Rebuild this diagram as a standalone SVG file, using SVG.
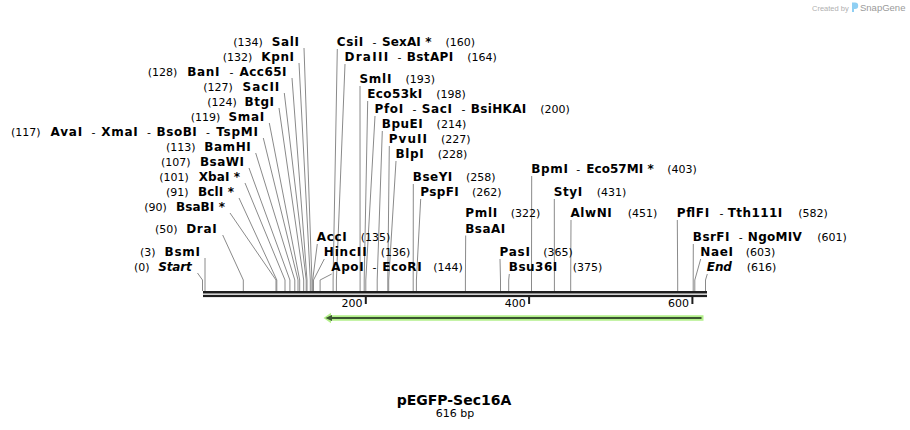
<svg xmlns="http://www.w3.org/2000/svg" width="910" height="430" viewBox="0 0 910 430">
<style>
text{font-family:"DejaVu Sans",Verdana,sans-serif;fill:#000}
.n{font-size:11px}
.b{font-size:12px;font-weight:bold}
.i{font-style:italic}
.e{text-anchor:end}
.c{fill:none;stroke:#8a8a8a;stroke-width:1}
.t{font-size:11px}
</style>
<rect width="910" height="430" fill="#fff"/>
<g id="watermark">
<text x="812" y="10.5" style="font-family:'Liberation Sans',Arial,sans-serif;font-size:7.5px;fill:#b0b0b0">Created by</text>
<path d="M852,2.5 h3 a3.2,3.2 0 0 1 0,6.4 h-1 v3 h-2 z" fill="#8fcff3"/>
<text x="860" y="11" style="font-family:'Liberation Sans',Arial,sans-serif;font-size:9.5px;fill:#9a9a9a">SnapGene</text>
</g>
<g id="connectors">
<polyline class="c" points="304,48 311.9,280 311.9,291"/>
<polyline class="c" points="299,63 310.3,280 310.3,291"/>
<polyline class="c" points="292,78 307,280 307,291"/>
<polyline class="c" points="284.3,93 306.2,280 306.2,291"/>
<polyline class="c" points="279,108 303.7,280 303.7,291"/>
<polyline class="c" points="269.3,123 299.7,280 299.7,291"/>
<polyline class="c" points="263.3,138 298,280 298,291"/>
<polyline class="c" points="255.7,153 294.8,280 294.8,291"/>
<polyline class="c" points="249,168 289.9,280 289.9,291"/>
<polyline class="c" points="245,183 285,280 285,291"/>
<polyline class="c" points="239,198 276.8,280 276.8,291"/>
<polyline class="c" points="230,213 276,280 276,291"/>
<polyline class="c" points="222.7,235 243.3,280 243.3,291"/>
<polyline class="c" points="205,258 205,280 205,291"/>
<polyline class="c" points="197.5,273 202.5,280 202.5,291"/>
<polyline class="c" points="337.3,49 333.1,280 333.1,291"/>
<polyline class="c" points="345,64 336.4,280 336.4,291"/>
<polyline class="c" points="360,86 360.1,280 360.1,291"/>
<polyline class="c" points="367.7,101 364.2,280 364.2,291"/>
<polyline class="c" points="375,116 365.8,280 365.8,291"/>
<polyline class="c" points="382.3,131 377.2,280 377.2,291"/>
<polyline class="c" points="389.3,146 387.8,280 387.8,291"/>
<polyline class="c" points="396,161 388.7,280 388.7,291"/>
<polyline class="c" points="413.3,184 413.2,280 413.2,291"/>
<polyline class="c" points="420.7,199 416.4,280 416.4,291"/>
<polyline class="c" points="465.7,235.5 465.4,280 465.4,291"/>
<polyline class="c" points="317.3,244 312.7,280 312.7,291"/>
<polyline class="c" points="324.3,259 313.5,280 313.5,291"/>
<polyline class="c" points="331.7,274 320.1,280 320.1,291"/>
<polyline class="c" points="500,259 500.5,280 500.5,291"/>
<polyline class="c" points="509.3,274 508.7,280 508.7,291"/>
<polyline class="c" points="531.7,176 531.5,280 531.5,291"/>
<polyline class="c" points="554.3,199 554.4,280 554.4,291"/>
<polyline class="c" points="571,220 570.7,280 570.7,291"/>
<polyline class="c" points="677.3,220 677.7,280 677.7,291"/>
<polyline class="c" points="693.3,244 693.2,280 693.2,291"/>
<polyline class="c" points="700.7,259 694.8,280 694.8,291"/>
<polyline class="c" points="707.3,274 705.5,280 705.5,291"/>
</g>
<g id="ruler">
<rect x="203" y="291" width="504" height="2.5" fill="#1e1e1e"/>
<rect x="203" y="294.8" width="504" height="2.3" fill="#1e1e1e"/>
<rect x="364.8" y="297" width="2" height="7" fill="#1e1e1e"/>
<rect x="528.1" y="297" width="2" height="7" fill="#1e1e1e"/>
<rect x="691.4" y="297" width="2" height="7" fill="#1e1e1e"/>
<text class="t e" x="362.5" y="307">200</text>
<text class="t e" x="525.8" y="307">400</text>
<text class="t e" x="689.1" y="307">600</text>
</g>
<g id="feature-arrow">
<polygon points="323.5,318 331,312.8 331,315.3 703.5,315.3 703.5,320.7 331,320.7 331,323.2" fill="#b3f08a"/>
<line x1="330" y1="318" x2="701.5" y2="318" stroke="#3a5430" stroke-width="2"/>
<polygon points="325.5,318 332,315 332,321" fill="#3a5430"/>
</g>
<g id="n-SalI"><text class="n" x="233.3" y="46">(134)</text><text class="b" x="271.8" y="46" textLength="27.2">SalI</text></g>
<g id="n-KpnI"><text class="n" x="222.7" y="61">(132)</text><text class="b" x="261.3" y="61" textLength="32.7">KpnI</text></g>
<g id="n-BanI"><text class="n" x="147.7" y="76">(128)</text><text class="b" x="187.2" y="76" textLength="32.2">BanI</text><text class="n" x="229.5" y="76">-</text><text class="b" x="239.5" y="76" textLength="47">Acc65I</text></g>
<g id="n-SacII"><text class="n" x="203.3" y="91">(127)</text><text class="b" x="242.6" y="91" textLength="36.7">SacII</text></g>
<g id="n-BtgI"><text class="n" x="207.3" y="106">(124)</text><text class="b" x="244.5" y="106" textLength="29.5">BtgI</text></g>
<g id="n-SmaI"><text class="n" x="190.7" y="121">(119)</text><text class="b" x="228.5" y="121" textLength="35.8">SmaI</text></g>
<g id="n-AvaI"><text class="n" x="11" y="136">(117)</text><text class="b" x="50.5" y="136" textLength="31.7">AvaI</text><text class="n" x="91.5" y="136">-</text><text class="b" x="101.2" y="136" textLength="36.5">XmaI</text><text class="n" x="147" y="136">-</text><text class="b" x="156.6" y="136" textLength="40.2">BsoBI</text><text class="n" x="206" y="136">-</text><text class="b" x="216.3" y="136" textLength="41.6">TspMI</text></g>
<g id="n-BamHI"><text class="n" x="166" y="151">(113)</text><text class="b" x="204.3" y="151" textLength="46.4">BamHI</text></g>
<g id="n-BsaWI"><text class="n" x="161" y="166">(107)</text><text class="b" x="199.9" y="166" textLength="44.1">BsaWI</text></g>
<g id="n-XbaI"><text class="n" x="159.3" y="181">(101)</text><text class="b" x="198.7" y="181" textLength="41.3">XbaI *</text></g>
<g id="n-BclI"><text class="n" x="166" y="196">(91)</text><text class="b" x="198.1" y="196" textLength="35.9">BclI *</text></g>
<g id="n-BsaBI"><text class="n" x="144.3" y="211">(90)</text><text class="b" x="175.9" y="211" textLength="49.1">BsaBI *</text></g>
<g id="n-DraI"><text class="n" x="155" y="233">(50)</text><text class="b" x="186.2" y="233" textLength="30.5">DraI</text></g>
<g id="n-BsmI"><text class="n" x="140" y="256">(3)</text><text class="b" x="164.5" y="256" textLength="35.5">BsmI</text></g>
<g id="n-Start"><text class="n" x="134" y="271">(0)</text><text class="b i" x="158.3" y="271" textLength="33.4">Start</text></g>
<g id="n-CsiI"><text class="b" x="336.8" y="46" textLength="26.4">CsiI</text><text class="n" x="372.5" y="46">-</text><text class="b" x="382.1" y="46" textLength="49.4">SexAI *</text><text class="n" x="445.5" y="46">(160)</text></g>
<g id="n-DraIII"><text class="b" x="344.5" y="61" textLength="43.6">DraIII</text><text class="n" x="397.4" y="61">-</text><text class="b" x="406.8" y="61" textLength="46.4">BstAPI</text><text class="n" x="467.2" y="61">(164)</text></g>
<g id="n-SmlI"><text class="b" x="359.5" y="83" textLength="31.9">SmlI</text><text class="n" x="405.4" y="83">(193)</text></g>
<g id="n-Eco53kI"><text class="b" x="367.2" y="98" textLength="55">Eco53kI</text><text class="n" x="436.2" y="98">(198)</text></g>
<g id="n-PfoI"><text class="b" x="374.5" y="113" textLength="28.6">PfoI</text><text class="n" x="412.4" y="113">-</text><text class="b" x="421.8" y="113" textLength="30.1">SacI</text><text class="n" x="461.4" y="113">-</text><text class="b" x="470.8" y="113" textLength="55.5">BsiHKAI</text><text class="n" x="540.3" y="113">(200)</text></g>
<g id="n-BpuEI"><text class="b" x="381.8" y="128" textLength="40.8">BpuEI</text><text class="n" x="436.6" y="128">(214)</text></g>
<g id="n-PvuII"><text class="b" x="388.8" y="143" textLength="38.2">PvuII</text><text class="n" x="441" y="143">(227)</text></g>
<g id="n-BlpI"><text class="b" x="395.5" y="158" textLength="28.2">BlpI</text><text class="n" x="437.7" y="158">(228)</text></g>
<g id="n-BseYI"><text class="b" x="412.8" y="181" textLength="39.5">BseYI</text><text class="n" x="466" y="181">(258)</text></g>
<g id="n-PspFI"><text class="b" x="420.2" y="196" textLength="38.6">PspFI</text><text class="n" x="472" y="196">(262)</text></g>
<g id="n-PmlI"><text class="b" x="465.2" y="217" textLength="32.1">PmlI</text><text class="n" x="510.7" y="217">(322)</text><text class="b" x="465.2" y="232.5" textLength="40.1">BsaAI</text></g>
<g id="n-AccI"><text class="b" x="316.8" y="241" textLength="30">AccI</text><text class="n" x="360.7" y="241">(135)</text></g>
<g id="n-HincII"><text class="b" x="323.8" y="256" textLength="42.8">HincII</text><text class="n" x="380.7" y="256">(136)</text></g>
<g id="n-ApoI"><text class="b" x="331.2" y="271" textLength="32.5">ApoI</text><text class="n" x="372.5" y="271">-</text><text class="b" x="382.2" y="271" textLength="39.4">EcoRI</text><text class="n" x="433.3" y="271">(144)</text></g>
<g id="n-PasI"><text class="b" x="499.5" y="256" textLength="30.5">PasI</text><text class="n" x="543.3" y="256">(365)</text></g>
<g id="n-Bsu36I"><text class="b" x="508.8" y="271" textLength="48.4">Bsu36I</text><text class="n" x="572.7" y="271">(375)</text></g>
<g id="n-BpmI"><text class="b" x="531.2" y="173" textLength="36.8">BpmI</text><text class="n" x="576.2" y="173">-</text><text class="b" x="586.2" y="173" textLength="67.6">Eco57MI *</text><text class="n" x="667.3" y="173">(403)</text></g>
<g id="n-StyI"><text class="b" x="553.8" y="196" textLength="28.3">StyI</text><text class="n" x="596.7" y="196">(431)</text></g>
<g id="n-AlwNI"><text class="b" x="570.5" y="217" textLength="41.2">AlwNI</text><text class="n" x="627.7" y="217">(451)</text></g>
<g id="n-PflFI"><text class="b" x="676.8" y="217" textLength="32.3">PflFI</text><text class="n" x="719.5" y="217">-</text><text class="b" x="727.8" y="217" textLength="54.3">Tth111I</text><text class="n" x="798.3" y="217">(582)</text></g>
<g id="n-BsrFI"><text class="b" x="692.8" y="241" textLength="36.6">BsrFI</text><text class="n" x="738.8" y="241">-</text><text class="b" x="747.8" y="241" textLength="54">NgoMIV</text><text class="n" x="817.3" y="241">(601)</text></g>
<g id="n-NaeI"><text class="b" x="700.2" y="256" textLength="32.7">NaeI</text><text class="n" x="745.7" y="256">(603)</text></g>
<g id="n-End"><text class="b i" x="706.8" y="271" textLength="25.1">End</text><text class="n" x="746.7" y="271">(616)</text></g>
<g id="title">
<text x="454" y="405" style="font-size:14px;font-weight:bold;text-anchor:middle">pEGFP-Sec16A</text>
<text x="455" y="416.5" style="font-size:11px;text-anchor:middle">616 bp</text>
</g>
</svg>
